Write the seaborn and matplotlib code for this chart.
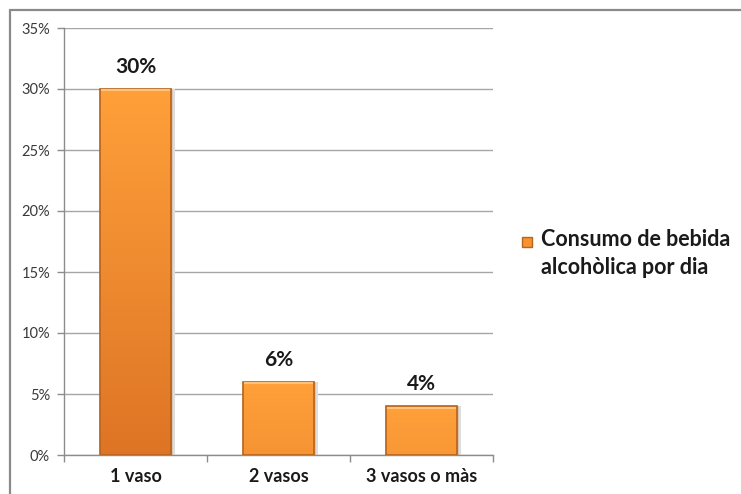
import numpy as np
import pandas as pd
import matplotlib
matplotlib.use("Agg")
import matplotlib.pyplot as plt
from matplotlib.colors import LinearSegmentedColormap
from matplotlib.lines import Line2D
from matplotlib.patches import Rectangle
import seaborn as sns

categories = ["1 vaso", "2 vasos", "3 vasos o màs"]
values = [30, 6, 4]
series_lines = ["Consumo de bebida", "alcohòlica por dia"]
ytick_values = [0, 5, 10, 15, 20, 25, 30, 35]
ytick_labels = ["0%", "5%", "10%", "15%", "20%", "25%", "30%", "35%"]

sns.set_theme(style="white")
plt.rcParams["font.family"] = ["Lato", "DejaVu Sans"]

W, H = 741, 494
fig = plt.figure(figsize=(W / 100, H / 100), dpi=100)
ax = fig.add_axes([64 / W, 1 - 455 / H, (493 - 64) / W, (455 - 28) / H])

df = pd.DataFrame({"cat": categories, "val": values,
                   "serie": " ".join(series_lines)})
sns.barplot(data=df, x="cat", y="val", hue="serie", ax=ax, width=0.5,
            palette=["#F7922E"], edgecolor="#B8641F", linewidth=1.0,
            legend=False, zorder=3)

ax.set_ylim(0, 35)
ax.set_xlim(-0.5, 2.5)
ax.set_yticks(ytick_values)
ax.set_yticklabels(ytick_labels, fontsize=10.5, color="#3a3a3a")
ax.set_xlabel("")
ax.set_ylabel("")
ax.tick_params(axis="x", length=0, pad=9, labelsize=13)
for lbl in ax.get_xticklabels():
    lbl.set_fontweight("bold")
    lbl.set_color("#1a1a1a")
ax.set_xticks([-0.5, 0.5, 1.5, 2.5], minor=True)
ax.tick_params(axis="x", which="minor", direction="out", length=5,
               color="#8c8c8c", width=1, bottom=True)
ax.tick_params(axis="y", direction="out", length=5, color="#8c8c8c",
               width=1, left=True, pad=5)

ax.yaxis.grid(True, color="#a6a6a6", linewidth=1, zorder=0)
ax.set_axisbelow(True)
for side in ["top", "right"]:
    ax.spines[side].set_visible(False)
for side in ["left", "bottom"]:
    ax.spines[side].set_color("#8c8c8c")
    ax.spines[side].set_linewidth(1)

# vertical orange gradient inside each bar, deeper shade for taller bars
top_c = np.array([255, 160, 58]) / 255
bot_c = np.array([220, 114, 36]) / 255
vmax = max(values)
for patch, v in zip(ax.patches, values):
    x0, y0 = patch.get_x(), patch.get_y()
    w, h = patch.get_width(), patch.get_height()
    end = top_c + (bot_c - top_c) * (v / vmax) ** 0.8 * 0.95
    cmap = LinearSegmentedColormap.from_list("g", [end, top_c])
    grad = np.linspace(0, 1, 256).reshape(-1, 1)
    im = ax.imshow(grad, extent=[x0, x0 + w, y0, y0 + h], origin="lower",
                   aspect="auto", cmap=cmap, zorder=3.5)
    im.set_clip_path(patch)
    # soft shadow to the right of the bar
    ax.add_patch(Rectangle((x0 + w, y0), 0.025, h, color="#dedede",
                           zorder=2.5, linewidth=0))
    # bevel: light top rim, darker outline
    ax.add_patch(Rectangle((x0, y0), w, h, fill=False, edgecolor="#B8641F",
                           linewidth=1.2, zorder=4))
    ax.plot([x0 + 0.01, x0 + w - 0.01], [y0 + h - 0.12, y0 + h - 0.12],
            color="#FFC27A", linewidth=1.5, zorder=4.2, solid_capstyle="butt")
    ax.annotate(f"{v}%", (x0 + w / 2, y0 + h), xytext=(0, 8.5),
                textcoords="offset points", ha="center", va="bottom",
                fontsize=15, fontweight="bold", color="#1a1a1a", zorder=5)

# legend beside the plot area
fig.add_artist(Rectangle((522 / W, 1 - 247 / H), 10 / W, 10 / H,
                         transform=fig.transFigure, facecolor="#F7922E",
                         edgecolor="#B8641F", linewidth=1))
for i, line in enumerate(series_lines):
    fig.text(541 / W, 1 - (246 + 28 * i) / H, line, ha="left", va="baseline",
             fontsize=15.5, fontweight="bold", color="#1a1a1a",
             transform=fig.transFigure)

# outer chart frame (running off the canvas at right and bottom)
fig.add_artist(Line2D([9.5 / W, 9.5 / W], [1 - 10.5 / H, -0.05],
                      transform=fig.transFigure, color="#8a8a8a", linewidth=1.6))
fig.add_artist(Line2D([9.5 / W, 1.05], [1 - 10.5 / H, 1 - 10.5 / H],
                      transform=fig.transFigure, color="#8a8a8a", linewidth=1.6))

fig.savefig("out.png", dpi=100, facecolor="white")
